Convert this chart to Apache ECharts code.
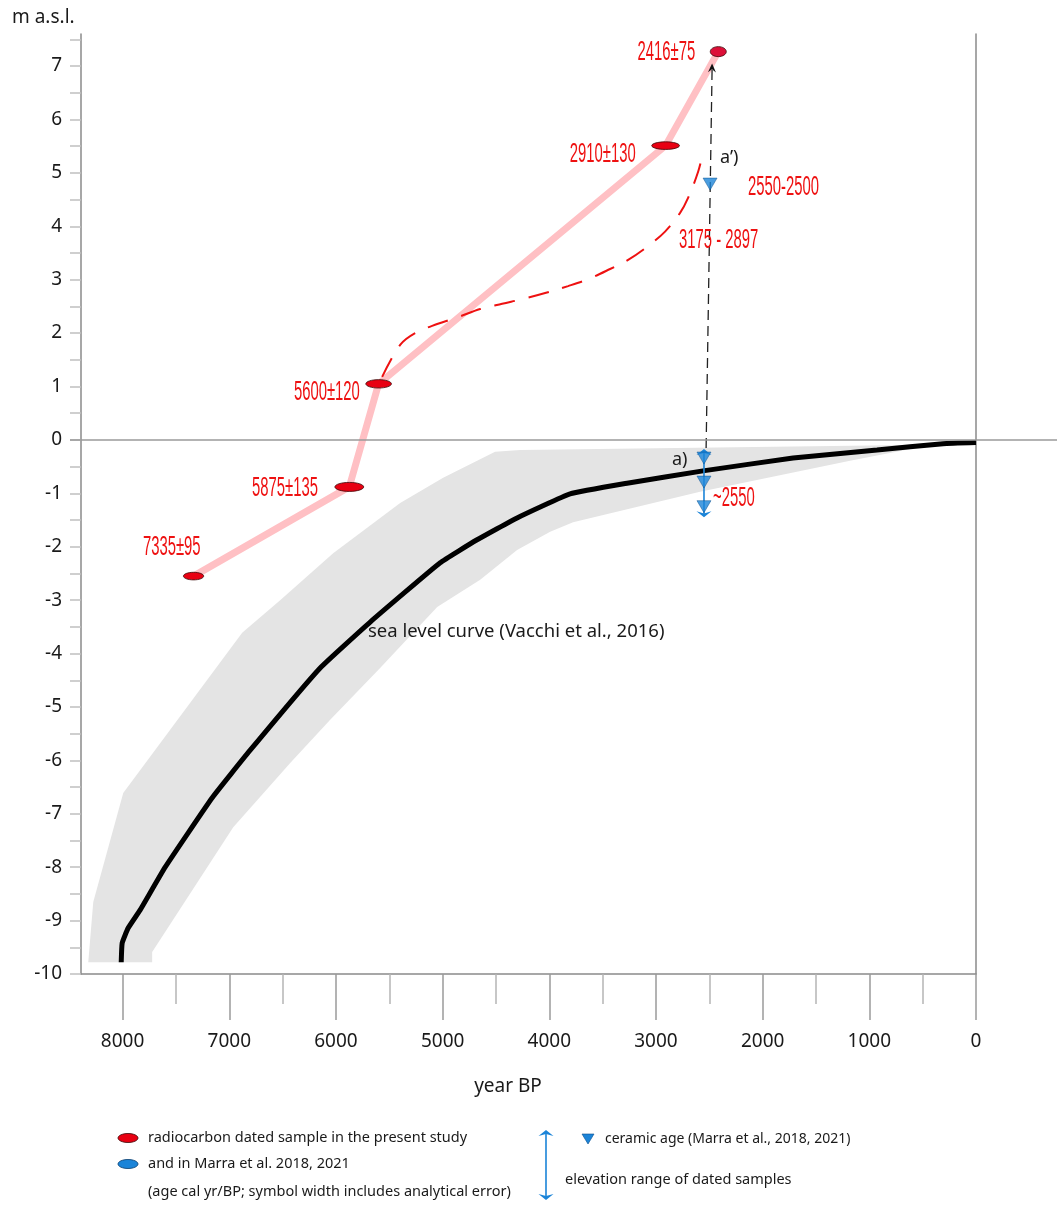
<!DOCTYPE html>
<html>
<head>
<meta charset="utf-8">
<script src="https://cdn.jsdelivr.net/npm/echarts@6/dist/echarts.min.js"></script>
<style>
html, body { margin: 0; padding: 0; background: #fff; }
#chart { width: 1057px; height: 1208px; }
</style>
</head>
<body>
<div id="chart"></div>
<script>
// axis ticks
var YEAR_TICKS = [0, 1000, 2000, 3000, 4000, 5000, 6000, 7000, 8000];
var YEAR_MINOR_TICKS = [500, 1500, 2500, 3500, 4500, 5500, 6500, 7500];
var M_LABELS = [-10, -9, -8, -7, -6, -5, -4, -3, -2, -1, 0, 1, 2, 3, 4, 5, 6, 7];
var M_TICKS = [-10, -9.5, -9, -8.5, -8, -7.5, -7, -6.5, -6, -5.5, -5, -4.5, -4, -3.5, -3, -2.5,
  -2, -1.5, -1, -0.5, 0, 0.5, 1, 1.5, 2, 2.5, 3, 3.5, 4, 4.5, 5, 5.5, 6, 6.5, 7, 7.5];

// sea level curve (Vacchi et al., 2016) [year BP, m]
var seaLevel = [[8013, -9.78], [8004, -9.42], [7948, -9.14], [7835, -8.80], [7601, -8.00],
  [7160, -6.70], [6804, -5.81], [6148, -4.27], [5679, -3.41], [5023, -2.30], [4677, -1.87],
  [4302, -1.46], [3805, -1.01], [3271, -0.81], [2559, -0.58], [1715, -0.34], [928, -0.19],
  [309, -0.07], [0, -0.05]];
// uncertainty envelope
var bandUpper = [[8322, -9.78], [8275, -8.65], [7994, -6.61], [6879, -3.61], [6523, -3.0],
  [6026, -2.12], [5398, -1.18], [4995, -0.71], [4508, -0.22], [4274, -0.19], [431, -0.09], [0, -0.04]];
var bandLower = [[7723, -9.78], [7723, -9.59], [6963, -7.25], [6429, -6.05], [6054, -5.24],
  [5586, -4.27], [5051, -3.13], [4648, -2.62], [4302, -2.06], [3992, -1.72], [3777, -1.54],
  [2587, -0.97], [1181, -0.39], [459, -0.11], [0, -0.04]];

// radiocarbon samples
var sampleYear = [7335, 5875, 5600, 2910, 2416];
var sampleErr = [95, 135, 120, 130, 75];
var sampleElev = [-2.55, -0.88, 1.05, 5.51, 7.27];

// dashed curve 3175 - 2897
var dashedCurve = [[5567, 1.18], [5398, 1.78], [5258, 2.00], [5051, 2.17], [4855, 2.30],
  [4648, 2.45], [4442, 2.55], [4245, 2.64], [4039, 2.75], [3824, 2.88], [3636, 3.01],
  [3430, 3.20], [3261, 3.37], [3074, 3.63], [2915, 3.90], [2774, 4.25], [2699, 4.53],
  [2605, 5.02], [2558, 5.39]];

// ceramic ages
var ceramic = [[2550, -0.34], [2550, -0.79], [2550, -1.25], [2493, 4.79]];
var rangeA = [[2550, -0.17], [2550, -1.45]];
var linkA = [[2530, -0.15], [2474, 7.05]];

var FONT = '"Noto Sans", "Open Sans", sans-serif';
var NARROW = '"Liberation Sans", Arial, sans-serif';
var RED = '#ee1111';
var BLUE = '#1b84d8';

// label placement of the sample dates (px offsets from the ellipse)
var labelPos = [
  { dx: 7, dy: -29, fromCenter: true },
  { dx: -17, dy: 1 },
  { dx: -6, dy: 8 },
  { dx: -16, dy: 9 },
  { dx: -15, dy: 1 }
];
var markerRy = [3.8, 4.5, 4.2, 3.8, 5];

function head(x, y, dx, dy, w, h) {
  var len = Math.sqrt(dx * dx + dy * dy); dx /= len; dy /= len;
  var px = -dy, py = dx;
  return [[x, y], [x - dx * h + px * w, y - dy * h + py * w],
    [x - dx * h * 0.65, y - dy * h * 0.65], [x - dx * h - px * w, y - dy * h - py * w]];
}

var chart = echarts.init(document.getElementById('chart'));

var option = {
  backgroundColor: '#fff',
  animation: false,
  grid: { left: 81, right: 81, top: 34, bottom: 234 },
  xAxis: [{
    type: 'value', min: 0, max: 8390, inverse: true, position: 'bottom',
    axisLine: { show: true, onZero: false, lineStyle: { color: '#8a8a8a', width: 1.5 } },
    axisTick: { show: true, customValues: YEAR_TICKS, length: 46, lineStyle: { color: '#9a9a9a', width: 1.5 } },
    axisLabel: { customValues: YEAR_TICKS, margin: 58, fontSize: 19, color: '#1a1a1a', fontFamily: FONT,
      formatter: function (v) { return String(v); } },
    splitLine: { show: false }
  }, {
    type: 'value', min: 0, max: 8390, inverse: true, position: 'bottom',
    axisLine: { show: false, onZero: false },
    axisTick: { show: true, customValues: YEAR_MINOR_TICKS, length: 30, lineStyle: { color: '#b5b5b5', width: 1.5 } },
    axisLabel: { show: false },
    splitLine: { show: false }
  }],
  yAxis: [{
    type: 'value', min: -10, max: 7.6, position: 'left',
    axisLine: { show: true, onZero: false, lineStyle: { color: '#8a8a8a', width: 1.5 } },
    axisTick: { show: true, customValues: M_TICKS, length: 11, lineStyle: { color: '#c0c0c0', width: 1.5 } },
    axisLabel: { customValues: M_LABELS, margin: 19, fontSize: 19, color: '#1a1a1a', fontFamily: FONT },
    splitLine: { show: false }
  }, {
    type: 'value', min: -10, max: 7.6, position: 'right',
    axisLine: { show: true, onZero: false, lineStyle: { color: '#8a8a8a', width: 1.5 } },
    axisTick: { show: false }, axisLabel: { show: false }, splitLine: { show: false }
  }],
  series: [
    {
      name: 'envelope', type: 'custom', silent: true, z: 1,
      data: [[0, 0]],
      renderItem: function (params, api) {
        var pts = bandUpper.concat(bandLower.slice().reverse()).map(function (p) { return api.coord(p); });
        return { type: 'polygon', shape: { points: pts }, style: { fill: '#e4e4e4' } };
      }
    },
    {
      name: 'sea level curve', type: 'line', data: seaLevel, smooth: 0.12,
      symbol: 'none', z: 2,
      lineStyle: { color: '#000', width: 5 }
    },
    {
      name: 'samples path', type: 'line', z: 3, symbol: 'none',
      data: sampleYear.map(function (y, i) { return [y, sampleElev[i]]; }),
      lineStyle: { color: '#ffc0c4', width: 7 }
    },
    {
      name: '3175 - 2897', type: 'line', data: dashedCurve, smooth: 0.35, symbol: 'none', z: 4,
      lineStyle: { color: RED, width: 2, type: [21, 14] }
    },
    {
      name: 'link a', type: 'custom', silent: true, z: 5, data: [[0, 0]],
      renderItem: function (params, api) {
        var a = api.coord(linkA[0]), b = api.coord(linkA[1]);
        return { type: 'group', children: [
          { type: 'line', shape: { x1: a[0], y1: a[1], x2: b[0], y2: b[1] + 6 },
            style: { stroke: '#222', lineWidth: 1.3, lineDash: [10, 6] } },
          { type: 'polygon', shape: { points: head(b[0], b[1], b[0] - a[0], b[1] - a[1], 4, 9) }, style: { fill: '#111' } }
        ] };
      }
    },
    {
      name: 'elevation range', type: 'custom', silent: true, z: 6, data: [[0, 0]],
      renderItem: function (params, api) {
        var a = api.coord(rangeA[0]), b = api.coord(rangeA[1]);
        return { type: 'group', children: [
          { type: 'line', shape: { x1: a[0], y1: a[1] + 3, x2: b[0], y2: b[1] - 3 }, style: { stroke: BLUE, lineWidth: 1.6 } },
          { type: 'polygon', shape: { points: head(a[0], a[1], 0, -1, 7.5, 6) }, style: { fill: BLUE } },
          { type: 'polygon', shape: { points: head(b[0], b[1], 0, 1, 7.5, 6) }, style: { fill: BLUE } }
        ] };
      }
    },
    {
      name: 'ceramic age', type: 'scatter', data: ceramic, z: 7,
      symbol: 'triangle', symbolRotate: 180, symbolSize: [14, 12],
      itemStyle: { color: BLUE, borderColor: '#0b4f8f', borderWidth: 0.6 }
    },
    {
      name: 'radiocarbon dated sample', type: 'custom', z: 8,
      data: sampleYear.map(function (y, i) { return [y, sampleElev[i], sampleErr[i]]; }),
      renderItem: function (params, api) {
        var i = params.dataIndex;
        var y = api.value(0), m = api.value(1), e = api.value(2);
        var c = api.coord([y, m]);
        var l = api.coord([y + e, m]);
        var r = api.coord([y - e, m]);
        var rx = Math.abs(r[0] - l[0]) / 2;
        var lp = labelPos[i];
        var tx = lp.fromCenter ? c[0] + lp.dx : c[0] - rx + lp.dx;
        return { type: 'group', children: [
          { type: 'ellipse', shape: { cx: c[0], cy: c[1], rx: rx, ry: markerRy[i] },
            style: { fill: i === 4 ? '#dc1038' : '#e80012', stroke: '#3b0a0a', lineWidth: 0.8 } },
          { type: 'text', x: tx, y: c[1] + lp.dy, scaleX: 0.53,
            style: { text: y + '\u00b1' + e, fill: RED, font: '28px ' + NARROW, align: 'right', verticalAlign: 'middle' } }
        ] };
      }
    }
  ]
};

chart.setOption(option);

var y0 = chart.convertToPixel({ yAxisIndex: 0 }, 0);
function txt(x, y, s, size, extra) {
  var el = { type: 'text', x: x, y: y, z: 20,
    style: { text: s, fill: '#1a1a1a', font: size + 'px ' + FONT, verticalAlign: 'middle', align: 'left' } };
  if (extra) { for (var k in extra) el.style[k] = extra[k]; }
  return el;
}
function redTxt(x, y, s) {
  return { type: 'text', x: x, y: y, z: 20, scaleX: 0.53,
    style: { text: s, fill: RED, font: '28px ' + NARROW, verticalAlign: 'middle', align: 'left' } };
}

chart.setOption({
  graphic: [
    { type: 'line', z: 10, shape: { x1: 70, y1: y0, x2: 1057, y2: y0 }, style: { stroke: '#9a9a9a', lineWidth: 1.5 } },
    txt(12, 18, 'm a.s.l.', 19),
    txt(508, 1087, 'year BP', 19, { align: 'center' }),
    txt(368, 632, 'sea level curve (Vacchi et al., 2016)', 18.5),
    txt(672, 460, 'a)', 18),
    txt(720, 158, 'a\u2019)', 18),
    redTxt(748, 187, '2550-2500'),
    redTxt(679, 240, '3175 - 2897'),
    redTxt(713, 498, '~2550'),
    // legend
    { type: 'ellipse', z: 20, shape: { cx: 128, cy: 1138, rx: 10, ry: 4.5 }, style: { fill: '#e80012', stroke: '#3b0a0a', lineWidth: 0.8 } },
    txt(148, 1138, 'radiocarbon dated sample in the present study', 14.5),
    { type: 'ellipse', z: 20, shape: { cx: 128, cy: 1164, rx: 10, ry: 4.5 }, style: { fill: BLUE, stroke: '#0b3f6f', lineWidth: 0.8 } },
    txt(148, 1164, 'and in Marra et al. 2018, 2021', 14.5),
    txt(148, 1192, '(age cal yr/BP; symbol width includes analytical error)', 14.5),
    { type: 'line', z: 20, shape: { x1: 546, y1: 1134, x2: 546, y2: 1196 }, style: { stroke: BLUE, lineWidth: 1.6 } },
    { type: 'polygon', z: 20, shape: { points: head(546, 1130, 0, -1, 7.5, 6) }, style: { fill: BLUE } },
    { type: 'polygon', z: 20, shape: { points: head(546, 1200, 0, 1, 7.5, 6) }, style: { fill: BLUE } },
    { type: 'polygon', z: 20, shape: { points: [[582, 1134], [594, 1134], [588, 1144]] }, style: { fill: BLUE, stroke: '#0b4f8f', lineWidth: 0.6 } },
    txt(605, 1139, 'ceramic age (Marra et al., 2018, 2021)', 14),
    txt(565, 1180, 'elevation range of dated samples', 14.5)
  ]
});
</script>
</body>
</html>
